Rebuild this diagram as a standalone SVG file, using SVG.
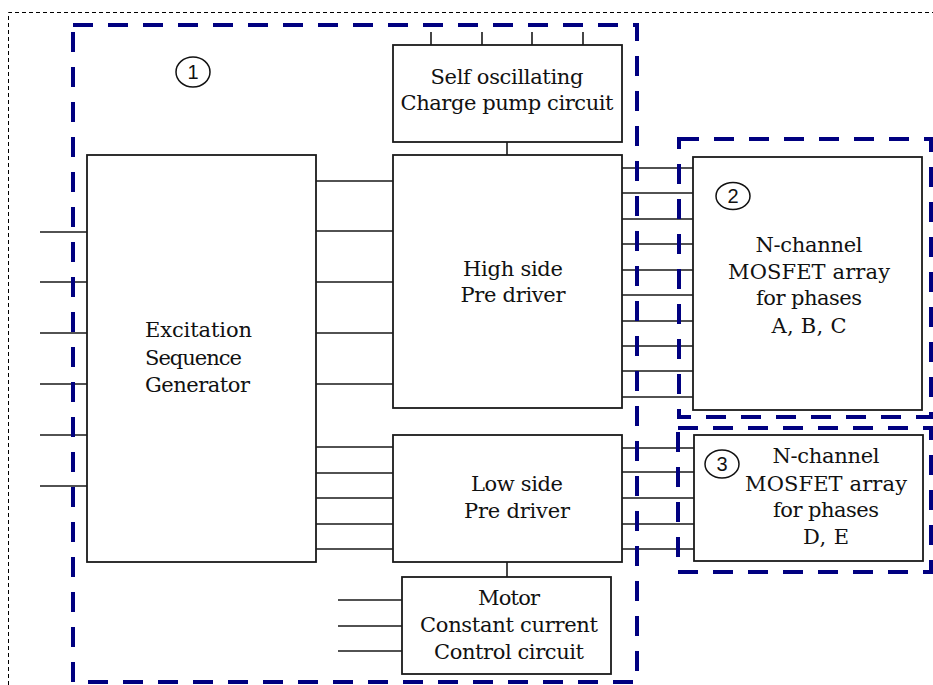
<svg xmlns="http://www.w3.org/2000/svg" width="933" height="685" viewBox="0 0 933 685">
<style>
.box{fill:#fff;stroke:#1a1a1a;stroke-width:1.8}
.ln{stroke:#1a1a1a;stroke-width:1.6;fill:none}
.t{font-family:"DejaVu Serif","Liberation Serif",serif;font-size:21px;fill:#111;text-anchor:middle}
.tl{text-anchor:start}
.blue{fill:none;stroke:#000080;stroke-width:4;stroke-dasharray:20 15}
.num{fill:#fff;stroke:#111;stroke-width:1.5}
.nt{font-family:"Liberation Sans",Arial,sans-serif;font-size:20px;fill:#111;text-anchor:middle}
</style>
<rect width="933" height="685" fill="#fff"/>
<g id="outer-border">
<path d="M8.5 685 V12.5 H933" fill="none" stroke="#000" stroke-width="1" stroke-dasharray="4 3"/>
</g>
<g id="connectors">
<path class="ln" d="M431 32V45M482 32V45M532 32V45M583 32V45"/>
<path class="ln" d="M507 142V155"/>
<path class="ln" d="M40 232H87M40 282H87M40 333H87M40 384H87M40 435H87M40 486H87"/>
<path class="ln" d="M316 181H393M316 231H393M316 282H393M316 333H393M316 384H393"/>
<path class="ln" d="M316 447H393M316 473H393M316 498H393M316 524H393M316 549H393"/>
<path class="ln" d="M622 168H693M622 193H693M622 219H693M622 244H693M622 270H693M622 295H693M622 321H693M622 346H693M622 371H693M622 397H693"/>
<path class="ln" d="M622 448H694M622 472H694M622 498H694M622 524H694M622 549H694"/>
<path class="ln" d="M507 562V577"/>
<path class="ln" d="M338 600H402M338 626H402M338 651H402"/>
</g>
<g id="charge-pump">
<rect class="box" x="393" y="45" width="229" height="97"/>
<text class="t" x="507" y="84" textLength="153">Self oscillating</text>
<text class="t" x="507" y="110" textLength="213">Charge pump circuit</text>
</g>
<g id="excitation">
<rect class="box" x="87" y="155" width="229" height="407"/>
<text class="t tl" x="145" y="337" textLength="107">Excitation</text>
<text class="t tl" x="145" y="365" textLength="97">Sequence</text>
<text class="t tl" x="145" y="392" textLength="105">Generator</text>
</g>
<g id="high-side">
<rect class="box" x="393" y="155" width="229" height="253"/>
<text class="t" x="513" y="276" textLength="100">High side</text>
<text class="t" x="513" y="302" textLength="105">Pre driver</text>
</g>
<g id="low-side">
<rect class="box" x="393" y="435" width="229" height="127"/>
<text class="t" x="517" y="491" textLength="92">Low side</text>
<text class="t" x="517" y="518" textLength="106">Pre driver</text>
</g>
<g id="motor-control">
<rect class="box" x="402" y="577" width="209" height="97"/>
<text class="t" x="509" y="605" textLength="62">Motor</text>
<text class="t" x="509" y="632" textLength="178">Constant current</text>
<text class="t" x="509" y="659" textLength="150">Control circuit</text>
</g>
<g id="mosfet-abc">
<rect class="box" x="693" y="157" width="229" height="253"/>
<text class="t" x="809" y="252" textLength="107">N-channel</text>
<text class="t" x="809" y="279" textLength="162">MOSFET array</text>
<text class="t" x="809" y="305" textLength="106">for phases</text>
<text class="t" x="809" y="333" textLength="75">A, B, C</text>
</g>
<g id="mosfet-de">
<rect class="box" x="694" y="435" width="229" height="126"/>
<text class="t" x="826" y="463" textLength="107">N-channel</text>
<text class="t" x="826" y="491" textLength="162">MOSFET array</text>
<text class="t" x="826" y="517" textLength="106">for phases</text>
<text class="t" x="826" y="544" textLength="46">D, E</text>
</g>
<g id="region-1">
<rect class="blue" x="73" y="25" width="564" height="657"/>
<ellipse class="num" cx="193" cy="72" rx="17" ry="15"/>
<text class="nt" x="193" y="79">1</text>
</g>
<g id="region-2">
<rect class="blue" x="679" y="139" width="252" height="278"/>
<ellipse class="num" cx="733" cy="196" rx="17" ry="13.5"/>
<text class="nt" x="733" y="203">2</text>
</g>
<g id="region-3">
<rect class="blue" x="678" y="428" width="253" height="144"/>
<ellipse class="num" cx="722" cy="464" rx="17" ry="14"/>
<text class="nt" x="722" y="471">3</text>
</g>
</svg>
